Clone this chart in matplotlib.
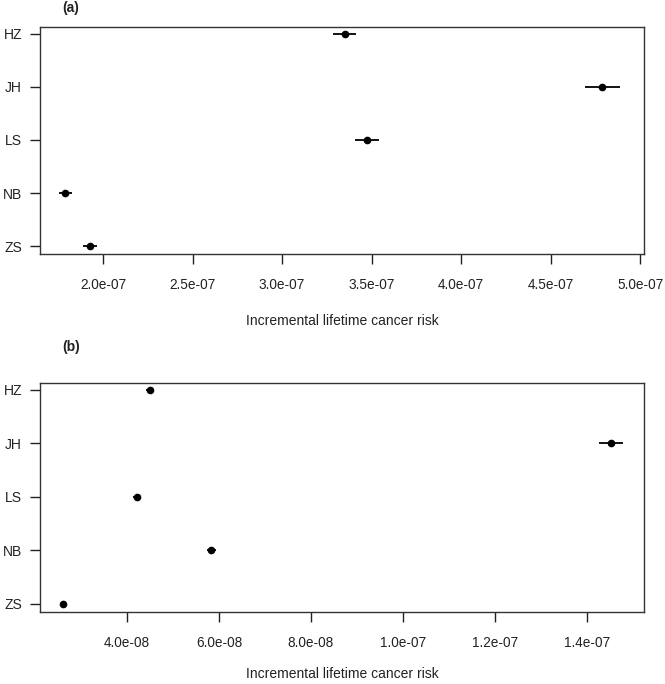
import matplotlib.pyplot as plt

plt.rcParams['font.family'] = ['Liberation Sans', 'DejaVu Sans']

sites = ['HZ', 'JH', 'LS', 'NB', 'ZS']

# panel (a)
risk_a = [3.35e-07, 4.79e-07, 3.475e-07, 1.79e-07, 1.925e-07]
err_a = [0.064e-07, 0.097e-07, 0.067e-07, 0.036e-07, 0.039e-07]
ticks_a = [2.0e-07, 2.5e-07, 3.0e-07, 3.5e-07, 4.0e-07, 4.5e-07, 5.0e-07]
labels_a = ['2.0e-07', '2.5e-07', '3.0e-07', '3.5e-07', '4.0e-07', '4.5e-07', '5.0e-07']

# panel (b)
risk_b = [4.5e-08, 1.452e-07, 4.22e-08, 5.83e-08, 2.6e-08]
err_b = [0.08e-08, 0.26e-08, 0.08e-08, 0.1e-08, 0.05e-08]
ticks_b = [4.0e-08, 6.0e-08, 8.0e-08, 1.0e-07, 1.2e-07, 1.4e-07]
labels_b = ['4.0e-08', '6.0e-08', '8.0e-08', '1.0e-07', '1.2e-07', '1.4e-07']

W, H = 665, 684
fig = plt.figure(figsize=(W / 100, H / 100), dpi=100)


def box(l, t, r, b):
    return [l / W, 1 - b / H, (r - l) / W, (b - t) / H]


def panel(rect, vals, errs, ticks, labels, xlim, tag, tag_y, lpad):
    ax = fig.add_axes(box(*rect))
    ypos = [5, 4, 3, 2, 1]
    ax.errorbar(vals, ypos, xerr=errs, fmt='o', color='black', ms=4.5,
                elinewidth=1.3, capsize=0)
    ax.set_xlim(*xlim)
    ax.set_ylim(0.85, 5.13)
    ax.set_yticks(ypos)
    ax.set_yticklabels(sites, fontsize=10)
    ax.set_xticks(ticks)
    ax.set_xticklabels(labels, fontsize=9.8)
    ax.tick_params(axis='y', length=7, width=1, pad=6, colors='#222222', labelcolor='#222222')
    ax.tick_params(axis='x', length=7.2, width=1, pad=10, colors='#222222', labelcolor='#222222')
    for s in ax.spines.values():
        s.set_linewidth(1)
        s.set_color('#333333')
    ax.set_xlabel('Incremental lifetime cancer risk', fontsize=10, labelpad=lpad, color='#222222')
    fig.text(71 / W, 1 - tag_y / H, tag, fontsize=10, fontweight='bold',
             ha='center', va='center', color='#222222')
    return ax


panel((40, 27, 644, 254), risk_a, err_a, ticks_a, labels_a, (1.648e-07, 5.022e-07), '(a)', 8, 16)
panel((40, 383, 644, 612), risk_b, err_b, ticks_b, labels_b, (2.11e-08, 1.524e-07), '(b)', 347, 12.5)

fig.savefig('out.png', dpi=100)
